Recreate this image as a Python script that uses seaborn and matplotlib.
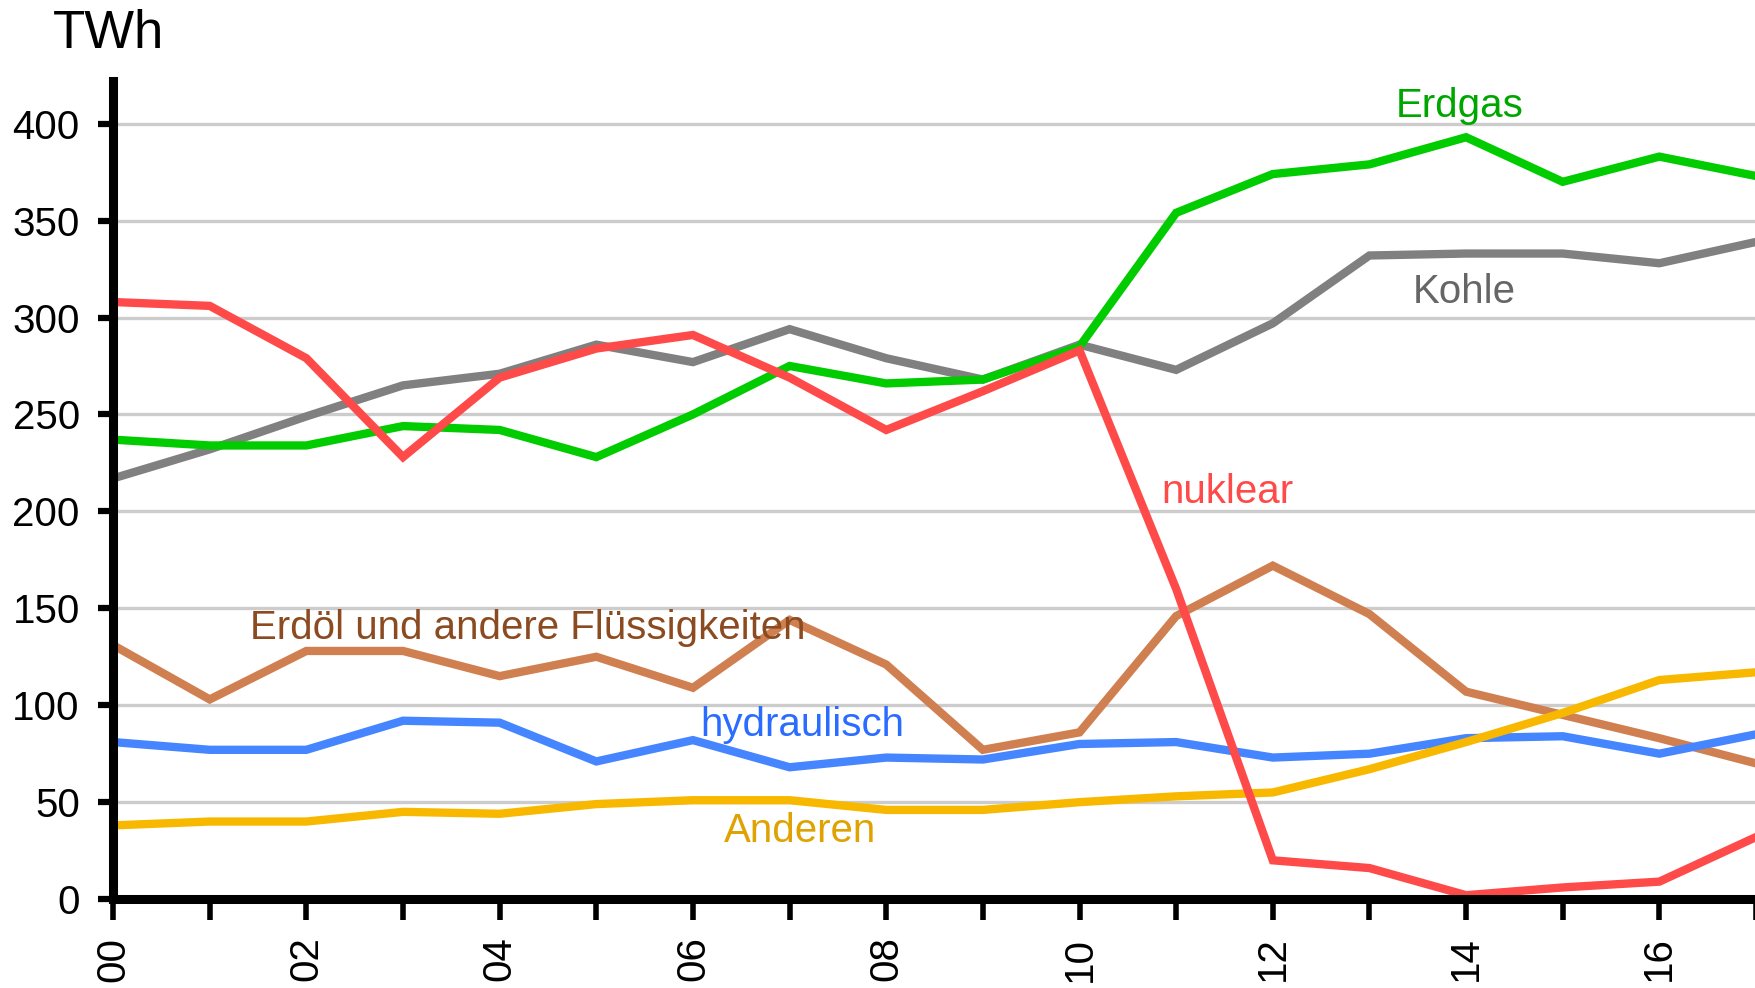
import matplotlib
matplotlib.use("Agg")
import matplotlib.pyplot as plt
import seaborn as sns
import pandas as pd

# years 2000..2017 (shown as two-digit labels)
years = list(range(0, 18))

kohle = [217, 232, 249, 265, 271, 286, 277, 294, 279, 268, 286, 273,
         297, 332, 333, 333, 328, 339]
erdgas = [237, 234, 234, 244, 242, 228, 250, 275, 266, 268, 285, 354,
          374, 379, 393, 370, 383, 373]
erdoel = [131, 103, 128, 128, 115, 125, 109, 144, 121, 77, 86, 146,
          172, 147, 107, 95, 83, 70]
hydraulisch = [81, 77, 77, 92, 91, 71, 82, 68, 73, 72, 80, 81,
               73, 75, 83, 84, 75, 85]
anderen = [38, 40, 40, 45, 44, 49, 51, 51, 46, 46, 50, 53,
           55, 67, 81, 96, 113, 117]
nuklear = [308, 306, 279, 228, 269, 284, 291, 269, 242, 262, 283, 160,
           20, 16, 2, 6, 9, 32]

series_names = ["Kohle", "Erdgas", "Erdöl und andere Flüssigkeiten",
                "hydraulisch", "Anderen", "nuklear"]
series_values = [kohle, erdgas, erdoel, hydraulisch, anderen, nuklear]
line_colors = ["#808080", "#00cc00", "#d08050", "#4585ff", "#f8b800", "#ff4a4a"]
text_colors = ["#666666", "#00a600", "#8b4a20", "#2a6cff", "#e0a200", "#ff4a4a"]

y_ticks = [0, 50, 100, 150, 200, 250, 300, 350, 400]

rows = []
for name, vals in zip(series_names, series_values):
    for yr, v in zip(years, vals):
        rows.append({"year": yr, "TWh": v, "source": name})
df = pd.DataFrame(rows)

sns.set_style("white")
plt.rcParams["font.family"] = ["Liberation Sans", "DejaVu Sans"]
plt.rcParams["text.color"] = "black"
plt.rcParams["xtick.color"] = "black"
plt.rcParams["ytick.color"] = "black"

fig = plt.figure(figsize=(17.56, 9.88), dpi=100)
ax = fig.add_axes([0.0644, 0.09, 0.9356, 0.828])

for name, col in zip(series_names, line_colors):
    sns.lineplot(
        data=df[df["source"] == name],
        x="year",
        y="TWh",
        color=col,
        ax=ax,
        legend=False,
        zorder=3
    )
for ln in ax.lines:
    ln.set_linewidth(6.0)
    ln.set_solid_joinstyle("miter")

# grid lines
for yv in y_ticks[1:]:
    ax.axhline(yv, color="#cccccc", linewidth=2.4, zorder=1)

ax.set_xlim(0, 17)
ax.set_ylim(0, 422)

ax.set_yticks(y_ticks)
ax.set_yticklabels([str(t) for t in y_ticks], fontsize=29)
ax.set_xticks(years)
ax.set_xticklabels([f"{y:02d}" if y % 2 == 0 else "" for y in years],
                   rotation=90, fontsize=29)

ax.tick_params(axis="y", length=11, width=4.5, direction="out", pad=13, left=True)
ax.tick_params(axis="x", length=15, width=4, direction="out", pad=12, bottom=True)

for side in ["top", "right"]:
    ax.spines[side].set_visible(False)
for side in ["left", "bottom"]:
    ax.spines[side].set_linewidth(6.5)
    ax.spines[side].set_color("black")
    ax.spines[side].set_zorder(4)

ax.set_xlabel("")
ax.set_ylabel("")

# direct labels
label_pos = [(13.98, 313), (13.93, 409), (4.29, 140), (7.13, 90), (7.11, 35), (11.53, 210)]
for name, col, (lx, ly) in zip(series_names, text_colors, label_pos):
    ax.text(lx, ly, name, color=col, fontsize=29, ha="center", va="center", zorder=5)

fig.text(0.030, 0.966, "TWh", fontsize=38, ha="left", va="center")

fig.savefig("out.png", dpi=100)
plt.close(fig)
